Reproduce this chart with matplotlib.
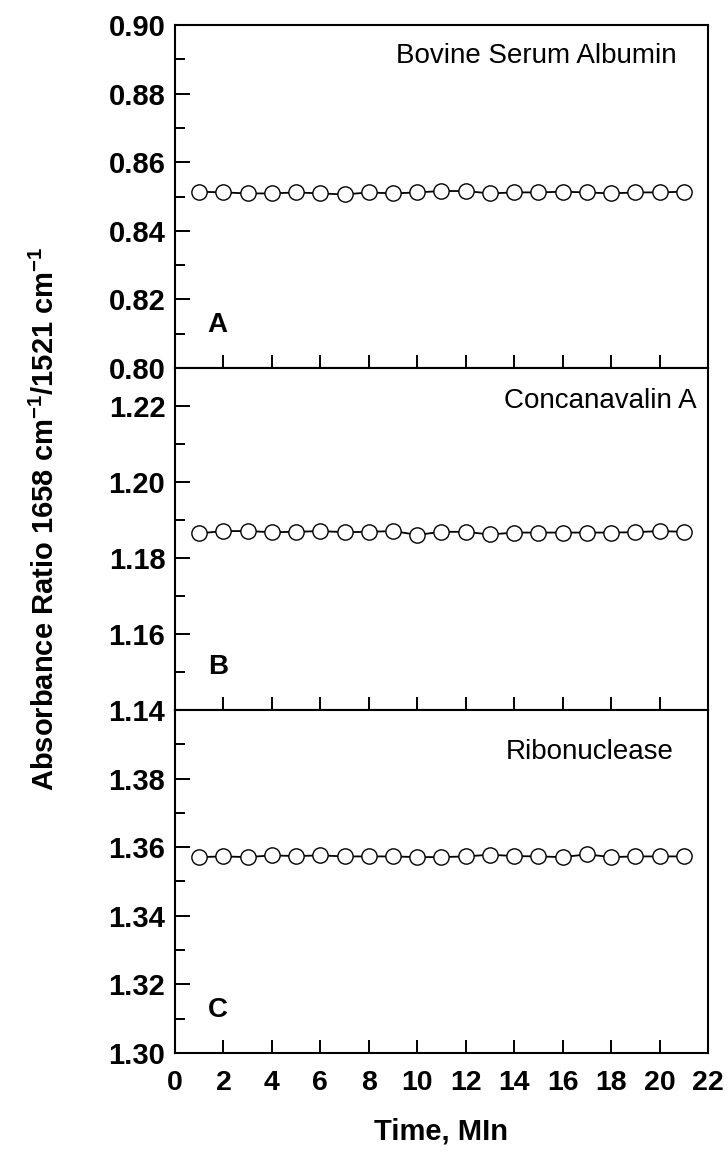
import numpy as np
import matplotlib.pyplot as plt
from matplotlib.ticker import MultipleLocator

plt.rcParams['font.family'] = ['Liberation Sans', 'DejaVu Sans']
plt.rcParams['mathtext.fontset'] = 'custom'
plt.rcParams['mathtext.rm'] = 'Liberation Sans:bold'
plt.rcParams['mathtext.default'] = 'rm'

# sampling times (min)
time = [1, 2, 3, 4, 5, 6, 7, 8, 9, 10, 11, 12, 13, 14, 15, 16, 17, 18, 19, 20, 21]

# absorbance ratio 1658/1521 for each protein
bsa = [0.8514, 0.8512, 0.8509, 0.8509, 0.8512, 0.8509, 0.8506, 0.8512, 0.8509, 0.8512, 0.8516,
       0.8516, 0.8509, 0.8512, 0.8512, 0.8514, 0.8512, 0.8509, 0.8512, 0.8512, 0.8514]
cona = [1.1865, 1.1871, 1.1871, 1.1868, 1.1869, 1.1871, 1.1868, 1.1869, 1.1871, 1.1861, 1.1869,
        1.1869, 1.1862, 1.1867, 1.1867, 1.1867, 1.1867, 1.1867, 1.1868, 1.1871, 1.1869]
rnase = [1.3571, 1.3573, 1.3571, 1.3576, 1.3574, 1.3576, 1.3573, 1.3573, 1.3573, 1.3571, 1.3571,
         1.3573, 1.3578, 1.3574, 1.3573, 1.3571, 1.3579, 1.3571, 1.3573, 1.3573, 1.3573]

names = ['Bovine Serum Albumin', 'Concanavalin A', 'Ribonuclease']
letters = ['A', 'B', 'C']
ylims = [(0.80, 0.90), (1.14, 1.23), (1.30, 1.40)]
yticks = [[0.80, 0.82, 0.84, 0.86, 0.88, 0.90],
          [1.14, 1.16, 1.18, 1.20, 1.22],
          [1.30, 1.32, 1.34, 1.36, 1.38]]


def make_plots(savefile='out.png'):
    '''Three stacked panels sharing the time axis.'''
    fig = plt.figure(figsize=(7.28, 11.57), dpi=100)
    boxes = [[0.2404, 0.6819, 0.7321, 0.2965],
             [0.2404, 0.3863, 0.7321, 0.2956],
             [0.2404, 0.0899, 0.7321, 0.2965]]
    name_pos = [(0.942, 0.91), (0.978, 0.904), (0.935, 0.878)]
    series = [bsa, cona, rnase]

    for i in range(3):
        ax = fig.add_axes(boxes[i])
        ax.plot(time, series[i], '-', color='k', lw=1.3, marker='o', ms=11,
                mfc='white', mec='k', mew=1.0)
        ax.set_xlim(0, 22)
        ax.set_ylim(*ylims[i])
        ax.xaxis.set_major_locator(MultipleLocator(2))
        ax.set_yticks(yticks[i])
        ax.set_yticklabels(['%.2f' % t for t in yticks[i]])
        ax.yaxis.set_minor_locator(MultipleLocator(0.01))
        ax.tick_params(axis='both', which='both', direction='in', top=False, right=False, width=1.4)
        ax.tick_params(axis='x', which='major', length=9.5, pad=12, labelsize=20.5)
        ax.tick_params(axis='y', which='major', length=11, pad=7, labelsize=21)
        ax.tick_params(axis='y', which='minor', length=7)
        for lab in ax.get_xticklabels() + ax.get_yticklabels():
            lab.set_fontweight('bold')
        if i < 2:
            ax.set_xticklabels([])
        for sp in ax.spines.values():
            sp.set_linewidth(1.5)

        ax.text(name_pos[i][0], name_pos[i][1], names[i], transform=ax.transAxes,
                ha='right', va='center', size=20)
        ax.text(0.08, 0.125, letters[i], transform=ax.transAxes,
                ha='center', va='center', size=20, weight='bold')

        if i == 2:
            ax.set_xlabel('Time, MIn', size=21, weight='bold', labelpad=16)

    fig.text(0.062, 0.5514, r'Absorbance Ratio 1658 cm$^{-1}$/1521 cm$^{-1}$',
             rotation=90, ha='center', va='center', size=21, weight='bold')

    plt.savefig(savefile, dpi=100)


if __name__ == "__main__":
    make_plots()
